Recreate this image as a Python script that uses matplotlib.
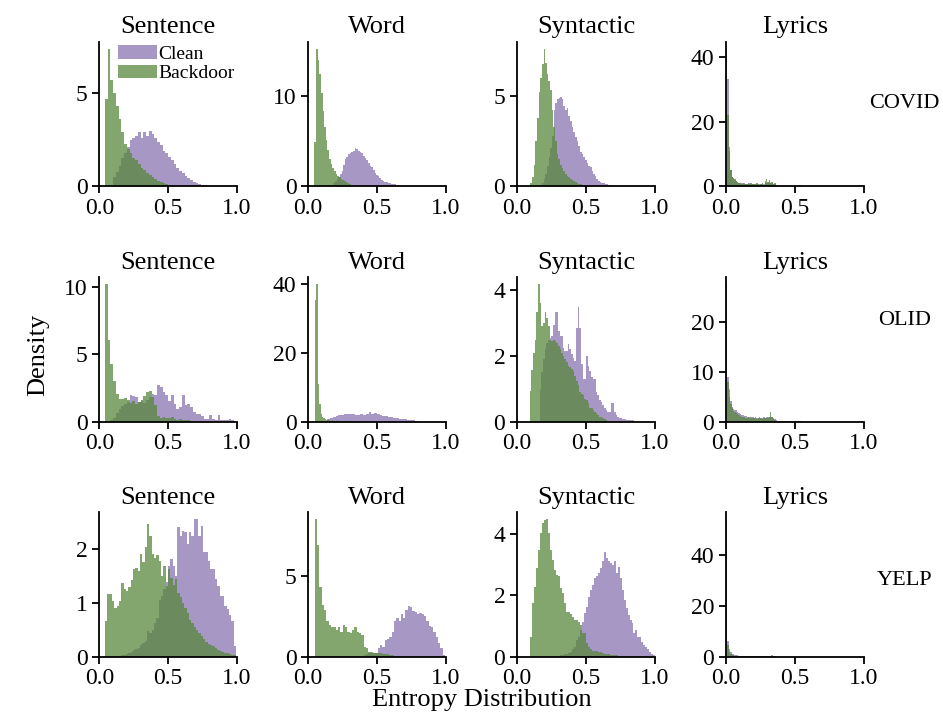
import numpy as np
import matplotlib
matplotlib.use("Agg")
import matplotlib.pyplot as plt

plt.rcParams['font.family'] = ['Liberation Serif', 'DejaVu Serif']

datasets = ["COVID", "OLID", "YELP"]
attacks = ["Sentence", "Word", "Syntactic", "Lyrics"]

# bin heights (density), one list per histogram
covid_sentence_clean = [0.5, 0.8, 1.1, 1.5, 1.8, 2.1, 2.5, 2.6, 2.7, 2.9, 2.6, 2.9, 2.7, 3.0, 2.8, 2.6,
                        2.4, 2.2, 1.9, 1.8, 1.6, 1.4, 1.2, 1.0, 0.85, 0.7, 0.55, 0.45, 0.35, 0.25, 0.2,
                        0.15, 0.1, 0.05, 0.03]
covid_sentence_backdoor = [4.7, 7.4, 5.7, 5.0, 4.3, 3.6, 2.9, 2.3, 2.0, 1.8, 1.5, 1.4, 1.2, 1.0, 0.9,
                           0.7, 0.6, 0.5, 0.4, 0.3, 0.25, 0.2, 0.15, 0.1, 0.05]
covid_word_clean = [0.2, 0.4, 0.6, 0.8, 1.0, 1.4, 1.7, 2.4, 3.0, 3.3, 3.6, 3.7, 3.8, 3.9, 4.25, 4.1,
                    3.9, 3.8, 3.7, 3.4, 3.1, 2.9, 2.6, 2.3, 2.1, 1.8, 1.5, 1.3, 1.1, 0.9, 0.75, 0.6,
                    0.5, 0.45, 0.4, 0.35, 0.3, 0.28, 0.25, 0.2, 0.2, 0.12, 0.1, 0.05]
covid_word_backdoor = [4.9, 15.3, 14.0, 12.5, 10.4, 8.4, 6.6, 5.1, 4.0, 3.0, 2.5, 2.0, 1.7, 1.4, 1.2,
                       1.0, 0.8, 0.7, 0.55, 0.45, 0.35, 0.25, 0.18, 0.12, 0.08, 0.05]
covid_syntactic_clean = [0.1, 0.2, 0.4, 0.7, 1.1, 1.6, 2.1, 2.8, 4.2, 4.6, 4.8, 4.9, 4.95, 4.8, 4.45,
                         4.2, 4.3, 3.9, 3.6, 3.25, 3.0, 2.7, 2.5, 2.25, 1.9, 1.8, 1.6, 1.45, 1.3, 1.15,
                         1.05, 0.85, 0.7, 0.55, 0.4, 0.3, 0.22, 0.2, 0.18, 0.16, 0.12, 0.1, 0.1, 0.08,
                         0.05, 0.05]
covid_syntactic_backdoor = [0.2, 0.5, 1.2, 2.5, 3.8, 5.2, 6.0, 6.75, 7.6, 6.8, 6.2, 5.8, 5.3, 4.2,
                            3.25, 2.5, 1.8, 1.5, 1.2, 1.0, 0.85, 0.7, 0.6, 0.5, 0.4, 0.35, 0.3, 0.25,
                            0.2, 0.15, 0.12, 0.08, 0.05]
covid_lyrics_clean = [30, 33, 12, 5, 3, 2.5, 2.0, 1.6, 1.3, 1.0, 1.0, 0.9, 0.8, 0.9, 0.8, 0.7, 0.8,
                      0.9, 0.7, 0.8, 0.7, 0.6, 0.8, 0.7, 0.6, 0.7, 0.8, 0.6, 1.0, 1.2, 1.0, 1.3, 0.9,
                      1.0, 0.6, 0.7, 0.3, 0.1, 0.1, 0.05, 0.05, 0.05, 0.05, 0.05, 0.05, 0.05, 0.05,
                      0.05, 0.05, 0.05, 0.1, 0.1, 0.1, 0.4, 0.3]
covid_lyrics_backdoor = [42.5, 22, 11, 5, 3, 2.5, 2.2, 1.8, 1.5, 1.2, 1.0, 0.8, 1.0, 0.8, 0.6, 0.7,
                         0.9, 0.8, 1.2, 0.7, 0.8, 0.6, 0.9, 0.7, 0.5, 0.8, 1.0, 0.5, 1.8, 2.2, 1.5,
                         2.0, 1.2, 1.5, 0.8, 1.0, 0.4]

olid_sentence_clean = [0.1, 0.3, 0.6, 0.9, 1.15, 1.3, 1.45, 2.0, 1.9, 1.8, 1.45, 1.5, 1.4, 1.6, 1.8,
                       2.05, 2.0, 2.7, 2.55, 2.2, 1.95, 1.55, 1.95, 1.3, 0.95, 1.05, 1.95, 1.2, 1.3,
                       1.05, 0.7, 0.55, 0.55, 0.4, 0.2, 0.2, 0.45, 0.2, 0.12, 0.45, 0.15, 0.1, 0.1,
                       0.2, 0.15]
olid_sentence_backdoor = [10.25, 6.05, 4.25, 3.05, 2.05, 1.7, 1.7, 1.75, 1.6, 1.4, 1.55, 1.3, 1.45,
                          1.6, 1.9, 2.2, 2.3, 1.8, 1.2, 0.4, 0.3, 0.35, 0.3, 0.25, 0.35, 0.2, 0.15,
                          0.2, 0.1, 0.1, 0.08, 0.05, 0.05]
olid_word_clean = [0.8, 1.1, 1.4, 1.6, 1.8, 2.0, 2.1, 2.3, 2.2, 2.1, 2.0, 2.0, 2.2, 2.0, 2.3, 2.8,
                   2.2, 2.5, 2.2, 2.0, 1.7, 1.5, 1.4, 1.2, 1.0, 0.9, 0.8, 0.7, 0.6, 0.55, 0.5, 0.4,
                   0.3, 0.2]
olid_word_backdoor = [35.3, 40.0, 11.0, 5.2, 2.2, 1.3, 0.9, 0.7, 0.5, 0.4, 0.35, 0.3, 0.35, 0.3,
                      0.25, 0.3, 0.35, 0.3, 0.25, 0.3, 0.2, 0.25, 0.3, 0.2, 0.25, 0.2, 0.2, 0.25,
                      0.15, 0.2, 0.15, 0.1, 0.1, 0.05]
olid_syntactic_clean = [0.95, 1.5, 1.9, 2.2, 2.4, 2.5, 2.55, 2.6, 2.95, 3.35, 3.35, 2.75, 2.6, 2.6,
                        2.25, 2.15, 2.15, 2.35, 2.2, 2.05, 1.95, 1.85, 2.85, 3.5, 2.85, 1.75, 1.3,
                        1.3, 2.0, 1.7, 1.55, 1.35, 1.3, 1.3, 0.9, 0.8, 0.65, 0.6, 0.5, 0.4, 0.35,
                        0.3, 0.3, 0.55, 0.55, 0.3, 0.2, 0.15, 0.12, 0.1, 0.08, 0.08, 0.05, 0.05,
                        0.05, 0.05, 0.05]
olid_syntactic_backdoor = [0.92, 1.57, 2.1, 2.5, 3.35, 4.2, 3.6, 2.9, 3.0, 3.35, 3.15, 2.9, 2.5,
                           2.45, 2.5, 2.45, 2.4, 2.3, 2.2, 2.1, 2.0, 1.9, 1.8, 1.7, 1.65, 1.6, 1.55,
                           1.4, 1.25, 1.1, 0.9, 0.85, 0.8, 0.7, 0.65, 0.55, 0.4, 0.4, 0.35, 0.3,
                           0.25, 0.2, 0.15, 0.15, 0.1, 0.08, 0.05]
olid_lyrics_clean = [22, 8.9, 6.5, 4.2, 3.0, 2.5, 2.4, 2.3, 2.0, 1.8, 1.6, 1.4, 1.3, 1.2, 1.1, 1.0,
                     1.0, 0.9, 0.9, 0.9, 0.8, 0.9, 0.8, 0.8, 0.9, 0.8, 0.8, 0.9, 0.8, 0.9, 0.9, 0.9,
                     1.0, 1.0, 0.7, 0.5, 0.3, 0.2, 0.15, 0.15, 0.1, 0.1, 0.1, 0.1, 0.1, 0.1, 0.1,
                     0.1, 0.1, 0.1, 0.05, 0.05, 0.05, 0.05, 0.05]
olid_lyrics_backdoor = [27.6, 8.0, 5.0, 3.5, 2.8, 2.2, 1.9, 1.7, 1.5, 1.3, 1.2, 1.0, 1.0, 0.9, 0.8,
                        0.8, 0.9, 0.7, 0.8, 0.7, 0.8, 0.7, 0.6, 0.7, 0.8, 0.7, 0.6, 0.7, 0.8, 0.7,
                        0.8, 1.0, 1.9, 1.0, 0.6, 0.3, 0.1]

yelp_sentence_clean = [0.02, 0.03, 0.04, 0.05, 0.07, 0.09, 0.12, 0.15, 0.17, 0.22, 0.26, 0.3, 0.47,
                       0.44, 0.5, 0.63, 0.72, 1.06, 1.13, 1.25, 1.38, 1.69, 1.81, 1.69, 1.5, 2.41,
                       2.25, 2.34, 2.31, 2.09, 2.31, 2.25, 2.56, 2.56, 2.25, 2.43, 1.94, 1.94, 1.78,
                       1.63, 1.63, 1.44, 1.31, 1.13, 1.13, 0.94, 0.88, 0.78, 0.66, 0.19]
yelp_sentence_backdoor = [0.67, 1.17, 1.17, 1.03, 0.9, 0.94, 1.03, 1.36, 1.25, 1.22, 1.3, 1.43, 1.63,
                          1.64, 1.6, 1.9, 1.75, 2.03, 2.47, 2.25, 1.9, 1.83, 1.88, 1.78, 1.5, 1.69,
                          1.31, 1.63, 1.47, 1.34, 1.44, 1.19, 1.1, 1.0, 0.9, 0.81, 0.69, 0.63, 0.56,
                          0.5, 0.44, 0.38, 0.33, 0.28, 0.24, 0.22, 0.19, 0.16, 0.13, 0.11, 0.09,
                          0.07, 0.06, 0.05, 0.04, 0.03]
yelp_word_clean = [0.12, 0.15, 0.2, 0.2, 0.22, 0.25, 0.52, 0.72, 0.62, 1.03, 1.1, 1.24, 1.55, 2.17,
                   2.38, 2.17, 2.64, 2.38, 2.9, 3.14, 3.05, 2.8, 2.73, 2.64, 2.68, 2.64, 2.48, 2.17,
                   1.9, 1.86, 1.55, 1.24, 0.83, 0.52, 0.1]
yelp_word_backdoor = [8.5, 6.9, 4.3, 3.2, 2.9, 2.17, 1.96, 1.86, 1.86, 1.65, 1.86, 1.55, 1.96, 1.86,
                      1.55, 1.45, 1.65, 1.82, 1.55, 1.45, 1.34, 0.62, 0.52, 0.31, 0.31, 0.25, 0.2,
                      0.25, 0.2, 0.16, 0.14, 0.16, 0.1, 0.08, 0.05, 0.03]
yelp_syntactic_clean = [0.05, 0.06, 0.08, 0.1, 0.12, 0.16, 0.25, 0.33, 0.55, 0.65, 0.87, 1.14, 1.42,
                        1.63, 1.96, 2.18, 2.34, 2.56, 2.64, 2.72, 2.89, 3.11, 3.43, 3.22, 3.11, 3.05,
                        3.0, 3.11, 2.72, 2.94, 2.56, 2.18, 1.85, 1.58, 1.36, 1.2, 1.09, 0.76, 0.87,
                        0.65, 0.65, 0.49, 0.38, 0.3, 0.24, 0.16, 0.1, 0.05]
yelp_syntactic_backdoor = [0.65, 1.74, 2.29, 2.89, 3.49, 4.03, 4.36, 4.47, 4.5, 4.03, 3.49, 3.16, 2.83,
                           2.67, 2.64, 2.23, 2.07, 1.74, 1.47, 1.47, 1.4, 1.31, 1.2, 1.2, 1.14, 1.04,
                           0.76, 0.76, 0.44, 0.33, 0.25, 0.2, 0.2, 0.18, 0.15, 0.15, 0.12, 0.1, 0.1,
                           0.08, 0.06, 0.05, 0.05, 0.04, 0.03]
yelp_lyrics_clean = [45, 6.0, 3.0, 1.8, 1.2, 0.9, 0.7, 0.6, 0.5, 0.45, 0.4, 0.35, 0.3, 0.3, 0.3, 0.25,
                     0.25, 0.25, 0.2, 0.2, 0.2, 0.2, 0.2, 0.2, 0.2, 0.2, 0.2, 0.2, 0.2, 0.25, 0.3, 0.3,
                     0.4, 0.5, 0.3, 0.1]
yelp_lyrics_backdoor = [54, 4.5, 2.0, 1.2, 0.8, 0.5, 0.4, 0.3, 0.3, 0.25, 0.2, 0.2, 0.2, 0.15, 0.15,
                        0.15, 0.15, 0.1, 0.1, 0.1, 0.1, 0.1, 0.1, 0.1, 0.1, 0.1, 0.1, 0.1, 0.1, 0.15,
                        0.2, 0.15, 0.1, 0.1, 0.05]

# first bin edge and bin width of every histogram (row by row, Sentence/Word/Syntactic/Lyrics)
clean_start = [0.10, 0.17, 0.169, 0.0, 0.08, 0.14, 0.164, 0.0, 0.143, 0.403, 0.3095, 0.0]
clean_width = [0.02, 0.012, 0.012, 0.01, 0.02, 0.02, 0.012, 0.01, 0.017, 0.0169, 0.0145, 0.01]
backdoor_start = [0.04, 0.044, 0.096, 0.0, 0.04, 0.05, 0.092, 0.0, 0.041, 0.048, 0.092, 0.0]
backdoor_width = [0.02, 0.012, 0.012, 0.01, 0.02, 0.01, 0.012, 0.01, 0.017, 0.0169, 0.0145, 0.01]

clean = [covid_sentence_clean, covid_word_clean, covid_syntactic_clean, covid_lyrics_clean,
         olid_sentence_clean, olid_word_clean, olid_syntactic_clean, olid_lyrics_clean,
         yelp_sentence_clean, yelp_word_clean, yelp_syntactic_clean, yelp_lyrics_clean]
backdoor = [covid_sentence_backdoor, covid_word_backdoor, covid_syntactic_backdoor, covid_lyrics_backdoor,
            olid_sentence_backdoor, olid_word_backdoor, olid_syntactic_backdoor, olid_lyrics_backdoor,
            yelp_sentence_backdoor, yelp_word_backdoor, yelp_syntactic_backdoor, yelp_lyrics_backdoor]

purple = '#8875b0'
green = '#58883d'

fig, axes = plt.subplots(3, 4, figsize=(9.43, 7.13), dpi=100)
fig.subplots_adjust(left=0.1053, right=0.9158, bottom=0.079, top=0.9415, wspace=0.519, hspace=0.625)

for i in range(3):
    for j in range(4):
        k = i * 4 + j
        ax = axes[i, j]
        h = clean[k]
        e = clean_start[k] + clean_width[k] * np.arange(len(h) + 1)
        ax.hist(e[:-1], bins=e, weights=h, color=purple, alpha=0.75, label='Clean')
        h = backdoor[k]
        e = backdoor_start[k] + backdoor_width[k] * np.arange(len(h) + 1)
        ax.hist(e[:-1], bins=e, weights=h, color=green, alpha=0.75, label='Backdoor')
        ax.set_xlim(0, 1)
        ax.set_xticks([0, 0.5, 1.0])
        ax.set_title(attacks[j], fontsize=19)
        ax.spines['top'].set_visible(False)
        ax.spines['right'].set_visible(False)
        ax.spines['left'].set_linewidth(1.3)
        ax.spines['bottom'].set_linewidth(1.3)
        ax.tick_params(labelsize=17, length=5, width=1.3)

axes[0, 0].legend(loc='upper right', bbox_to_anchor=(1.0, 0.99), frameon=False, fontsize=14,
                  borderaxespad=0, borderpad=0.1, handletextpad=0.1, labelspacing=0.1)

fig.text(0.959, 0.8555, datasets[0], fontsize=16, ha='center', va='center')
fig.text(0.959, 0.5498, datasets[1], fontsize=16, ha='center', va='center')
fig.text(0.959, 0.1865, datasets[2], fontsize=16, ha='center', va='center')
fig.text(0.041, 0.502, 'Density', fontsize=19, rotation=90, ha='center', va='center')
fig.text(0.511, 0.018, 'Entropy Distribution', fontsize=19, ha='center', va='center')

plt.savefig('out.png', dpi=100)
